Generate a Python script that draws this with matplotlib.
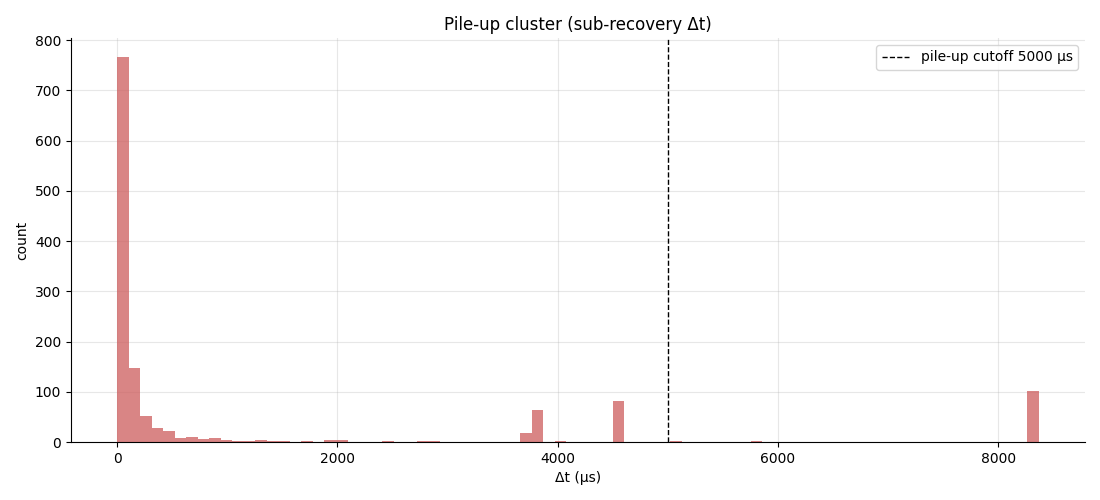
import numpy as np
import matplotlib
matplotlib.use("Agg")
import matplotlib.pyplot as plt

# Histogram range and bin count
dt_min = 0.0
dt_max = 8370.0
n_bins = 80

# Nonzero bin counts: bin index -> count
bin_index = [0, 1, 2, 3, 4, 5, 6, 7, 8, 9, 10, 11, 12, 13, 14, 16, 18, 19, 23,
             26, 27, 35, 36, 38, 43, 48, 55, 79]
bin_count = [766, 147, 52, 28, 22, 8, 10, 6, 8, 4, 2, 2, 4, 2, 2, 2, 4, 4, 2,
             2, 2, 18, 64, 2, 82, 2, 2, 101]

cutoff_us = 5000

edges = np.linspace(dt_min, dt_max, n_bins + 1)
centers = 0.5 * (edges[:-1] + edges[1:])
counts = np.zeros(n_bins)
counts[bin_index] = bin_count

fig, ax = plt.subplots(figsize=(11, 5), dpi=100)
fig.subplots_adjust(left=0.0645, right=0.9864, top=0.924, bottom=0.116)

ax.hist(centers, bins=edges, weights=counts, color="indianred", alpha=0.75)
ax.axvline(cutoff_us, color="black", linestyle="--", linewidth=1,
           label=f"pile-up cutoff {cutoff_us} µs")

ax.set_title("Pile-up cluster (sub-recovery Δt)")
ax.set_xlabel("Δt (µs)")
ax.set_ylabel("count")
ax.grid(True, alpha=0.3)
ax.set_axisbelow(True)
ax.spines["top"].set_visible(False)
ax.spines["right"].set_visible(False)
ax.legend(loc="upper right")

fig.savefig("out.png", dpi=100)
